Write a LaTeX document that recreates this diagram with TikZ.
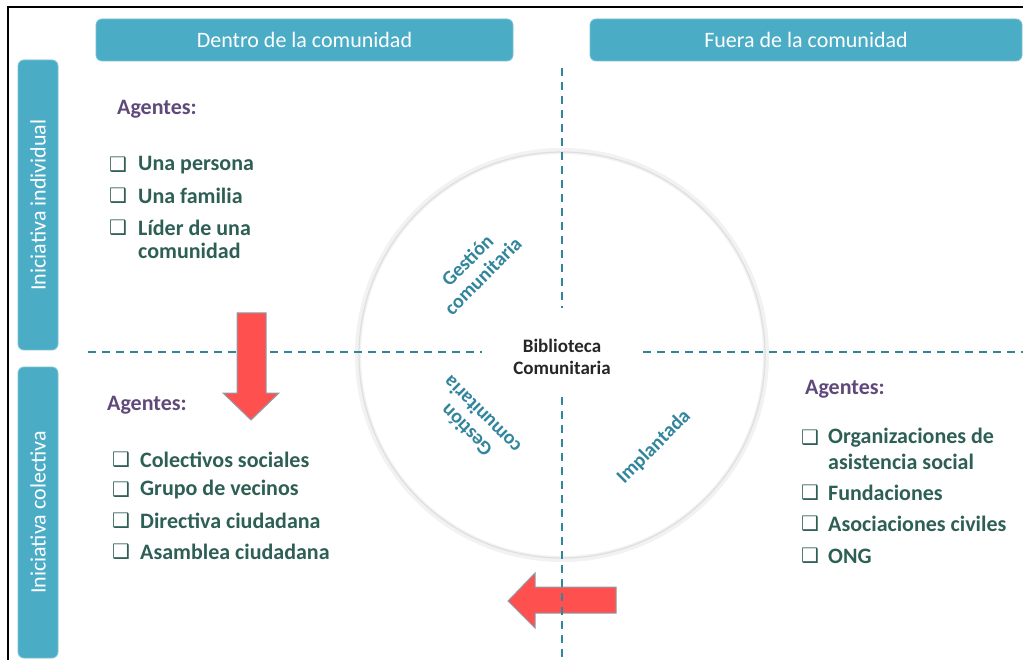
\documentclass[tikz,border=0pt]{standalone}
\usepackage{fontspec}
\setmainfont{Carlito}
\newfontfamily\dv{DejaVu Sans}
\definecolor{hdr}{HTML}{4BACC6}
\definecolor{hdrline}{HTML}{7CC3D6}
\definecolor{dashcol}{HTML}{31849B}
\definecolor{agt}{HTML}{5F497A}
\definecolor{itm}{HTML}{2E5F55}
\definecolor{arw}{HTML}{FF5050}
\definecolor{arwline}{HTML}{8A9FAA}
\definecolor{quadcol}{HTML}{31859C}
\tikzset{
  hdrbox/.style={fill=hdr, draw=hdrline, line width=0.8pt, rounded corners=6pt, text=white, font=\fontsize{22}{26}\selectfont, inner sep=0pt},
  sidetxt/.style={text=white, font=\fontsize{22}{26}\selectfont, rotate=90, inner sep=0pt},
  dline/.style={draw=dashcol, line width=1.3pt, dash pattern=on 8pt off 6pt},
  agent/.style={text=agt, font=\fontsize{22}{26}\selectfont\bfseries, anchor=west, inner sep=0pt},
  itemtxt/.style={text=itm, font=\fontsize{22}{26}\selectfont\bfseries, anchor=west, inner sep=0pt},
  chkbox/.style={text=itm, font=\dv\bfseries\fontsize{20}{24}\selectfont, anchor=west, inner sep=0pt},
  redarrow/.style={fill=arw, draw=arwline, line width=1pt},
  quad/.style={text=quadcol, font=\fontsize{20}{22}\selectfont\bfseries, align=center, inner sep=0pt},
}
\newcommand{\chkitem}[5]{%
  \node[chkbox] (#1b) at (#2,#4) {❑};
  \node[itemtxt] (#1t) at (#3,#4) {#5};}
\begin{document}
\begin{tikzpicture}[x=1pt,y=-1pt]
\useasboundingbox (0,0) rectangle (1023,660);
\fill[white] (0,0) rectangle (1023,660);
% frame
\draw[black, line width=1.5pt] (8,660) -- (8,7) -- (1023,7);
% headers
\node[hdrbox, minimum width=417pt, minimum height=42pt] (dentro) at (304.5,40) {Dentro de la comunidad};
\node[hdrbox, minimum width=432pt, minimum height=42pt] (fuera) at (806,40) {Fuera de la comunidad};
\node[hdrbox, minimum width=40pt, minimum height=290pt] (indiv) at (38,205) {};
\node[sidetxt] (indivt) at (indiv.center) {Iniciativa individual};
\node[hdrbox, minimum width=40pt, minimum height=291pt] (colec) at (38,512.5) {};
\node[sidetxt] (colect) at (colec.center) {Iniciativa colectiva};
% circle
\draw[gray!10, line width=6pt] (562,355) circle (204pt);
\draw[gray!25, line width=1.2pt] (562,355) circle (203pt);
% dashed lines
\coordinate (vt1) at (562,68);
\coordinate (vt2) at (562,308);
\coordinate (vb1) at (562,397);
\coordinate (vb2) at (562,660);
\coordinate (hl1) at (88,352);
\coordinate (hl2) at (482,352);
\coordinate (hr1) at (643,352);
\coordinate (hr2) at (1023,352);
% left arrow under line
\draw[redarrow] (616,587) -- (616,613) -- (535,613) -- (535,628) -- (508,601) -- (535,573) -- (535,587) -- cycle;
\draw[dline] (vt1) -- (vt2);
\draw[dline] (vb1) -- (vb2);
\draw[dline] (hl1) -- (hl2);
\draw[dline] (hr1) -- (hr2);
% down arrow over line
\draw[redarrow] (237,313) -- (266,313) -- (266,393) -- (279,393) -- (251,420) -- (223,393) -- (237,393) -- cycle;
% center
\node[font=\fontsize{19}{22}\selectfont\bfseries, align=center, text=black!85, inner sep=0pt] (bib) at (562,357) {Biblioteca\\Comunitaria};
\node[quad, rotate=45] (g1) at (475,268) {Gestión\\comunitaria};
\node[quad, rotate=135] (g2) at (474,423) {Gestión\\comunitaria};
\node[quad, rotate=45] (impl) at (654,447) {Implantada};
% top-left agents
\node[agent] (ag1) at (117,109) {Agentes:};
\chkitem{a1}{109}{138}{165}{Una persona}
\chkitem{a2}{109}{138}{196}{Una familia}
\chkitem{a3}{109}{138}{228}{Líder de una}
\node[itemtxt] (a3c) at (138,251) {comunidad};
% bottom-left agents
\node[agent] (ag2) at (107,405) {Agentes:};
\chkitem{b1}{112}{140}{460}{Colectivos sociales}
\chkitem{b2}{112}{140}{490}{Grupo de vecinos}
\chkitem{b3}{112}{140}{521}{Directiva ciudadana}
\chkitem{b4}{112}{140}{552}{Asamblea ciudadana}
% right agents
\node[agent] (ag3) at (805,389) {Agentes:};
\chkitem{c1}{801}{828}{438}{Organizaciones de}
\node[itemtxt] (c1c) at (828,462) {asistencia social};
\chkitem{c2}{801}{828}{493}{Fundaciones}
\chkitem{c3}{801}{828}{524}{Asociaciones civiles}
\chkitem{c4}{801}{828}{556}{ONG}
\end{tikzpicture}
\end{document}
